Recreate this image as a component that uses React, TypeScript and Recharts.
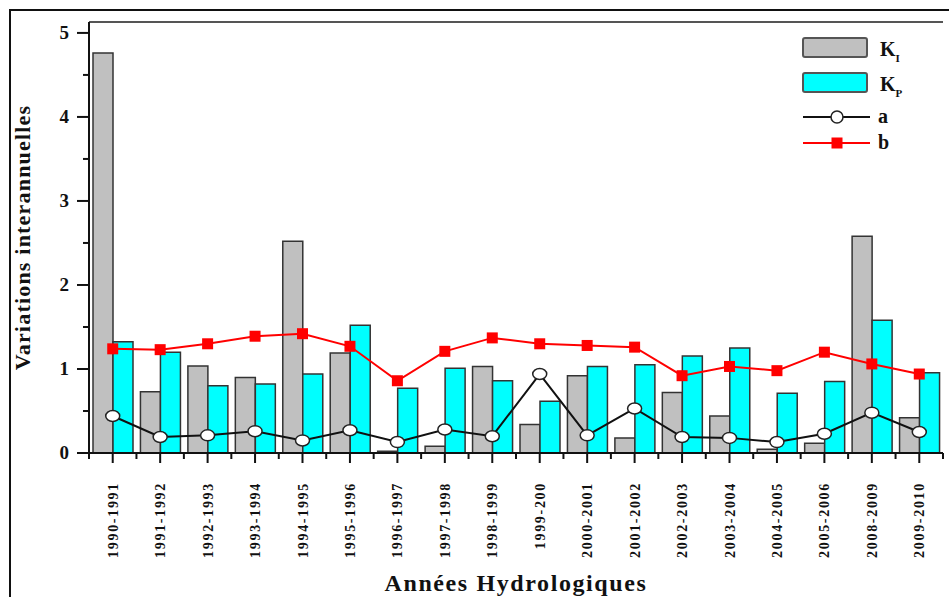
import React from "react";
import {
  ComposedChart,
  Bar,
  Line,
  XAxis,
  YAxis,
  ReferenceLine,
} from "recharts";

const years = [
  "1990-1991", "1991-1992", "1992-1993", "1993-1994", "1994-1995", "1995-1996",
  "1996-1997", "1997-1998", "1998-1999", "1999-200", "2000-2001", "2001-2002",
  "2002-2003", "2003-2004", "2004-2005", "2005-2006", "2008-2009", "2009-2010",
];

const ki = [4.76, 0.73, 1.035, 0.9, 2.52, 1.19, 0.02, 0.08, 1.03, 0.34, 0.92, 0.18, 0.72, 0.44, 0.045, 0.115, 2.58, 0.42];
const kp = [1.325, 1.2, 0.8, 0.82, 0.94, 1.52, 0.77, 1.01, 0.86, 0.615, 1.03, 1.05, 1.155, 1.25, 0.71, 0.85, 1.58, 0.955];
const a = [0.44, 0.19, 0.21, 0.26, 0.15, 0.27, 0.13, 0.28, 0.2, 0.94, 0.21, 0.53, 0.19, 0.18, 0.13, 0.23, 0.48, 0.25];
const b = [1.24, 1.23, 1.3, 1.39, 1.42, 1.27, 0.86, 1.21, 1.37, 1.3, 1.28, 1.26, 0.92, 1.03, 0.98, 1.2, 1.06, 0.94];

const yTicks = [0, 0.5, 1, 1.5, 2, 2.5, 3, 3.5, 4, 4.5, 5];
const Y_MAX = 5.13;

const data = years.map((year, i) => ({ year, ki: ki[i], kp: kp[i], a: a[i], b: b[i] }));

const FONT = "'Liberation Serif', 'Times New Roman', serif";
const PLOT_LEFT = 89;
const PLOT_RIGHT = 943;
const HALF_BAND = (PLOT_RIGHT - PLOT_LEFT) / years.length / 2;

const YTick = (props: any) => {
  const { x, y, payload } = props;
  const major = Number.isInteger(payload.value);
  return (
    <g>
      <line x1={x - (major ? 12 : 6)} x2={x} y1={y} y2={y} stroke="#111" strokeWidth={2} />
      {major && (
        <text x={x - 20} y={y} dy={6} textAnchor="end" fontFamily={FONT} fontWeight="bold" fontSize={19} fill="#111">
          {payload.value}
        </text>
      )}
    </g>
  );
};

const XTick = (props: any) => {
  const { x, y, payload, index } = props;
  return (
    <g>
      <line x1={x} x2={x} y1={y} y2={y + 10} stroke="#111" strokeWidth={2} />
      <line x1={x - HALF_BAND} x2={x - HALF_BAND} y1={y} y2={y + 6} stroke="#111" strokeWidth={2} />
      {index === years.length - 1 && (
        <line x1={x + HALF_BAND} x2={x + HALF_BAND} y1={y} y2={y + 6} stroke="#111" strokeWidth={2} />
      )}
      <text
        x={0}
        y={0}
        transform={`translate(${x + 5}, ${y + 29}) rotate(-90)`}
        textAnchor="end"
        fontFamily={FONT}
        fontWeight="bold"
        fontSize={14}
        letterSpacing={1.7}
        fill="#111"
      >
        {payload.value}
      </text>
    </g>
  );
};

const OpenDot = (props: any) => {
  const { cx, cy } = props;
  if (cx == null || cy == null) return null;
  return <ellipse cx={cx} cy={cy} rx={7} ry={5.5} fill="#fff" stroke="#222" strokeWidth={1.5} />;
};

const SquareDot = (props: any) => {
  const { cx, cy } = props;
  if (cx == null || cy == null) return null;
  return <rect x={cx - 5.5} y={cy - 5.5} width={11} height={11} fill="#ff0000" />;
};

const LegendBox = () => (
  <svg width={140} height={130} style={{ position: "absolute", left: 800, top: 35 }}>
    <rect x={3} y={3} width={64} height={19} fill="#c0c0c0" stroke="#555" strokeWidth={2} rx={2} />
    <text x={80} y={21} fontFamily={FONT} fontWeight="bold" fontSize={20} fill="#111">
      K<tspan fontSize={11} dy={6}>I</tspan>
    </text>
    <rect x={3} y={38} width={64} height={19} fill="#00ffff" stroke="#555" strokeWidth={2} rx={2} />
    <text x={80} y={56} fontFamily={FONT} fontWeight="bold" fontSize={20} fill="#111">
      K<tspan fontSize={11} dy={6}>P</tspan>
    </text>
    <line x1={3} x2={70} y1={82} y2={82} stroke="#111" strokeWidth={2} />
    <circle cx={37} cy={82} r={6} fill="#fff" stroke="#222" strokeWidth={1.5} />
    <text x={78} y={88} fontFamily={FONT} fontWeight="bold" fontSize={20} fill="#111">a</text>
    <line x1={3} x2={70} y1={108} y2={108} stroke="#ff0000" strokeWidth={2} />
    <rect x={31.5} y={102.5} width={11} height={11} fill="#ff0000" />
    <text x={78} y={114} fontFamily={FONT} fontWeight="bold" fontSize={20} fill="#111">b</text>
  </svg>
);

export default function App() {
  return (
    <div style={{ position: "absolute", left: 0, top: 0, width: 949, height: 597, background: "#fff", overflow: "hidden" }}>
      <div
        style={{
          position: "absolute",
          left: 9,
          top: 9,
          width: 960,
          height: 620,
          border: "2px solid #111",
          boxSizing: "border-box",
        }}
      />
      <ComposedChart
        width={949}
        height={597}
        data={data}
        margin={{ top: 22, right: 6, left: 0, bottom: 0 }}
        barCategoryGap={4}
        barGap={0}
      >
        <XAxis
          dataKey="year"
          height={144}
          tickSize={0}
          tickMargin={0}
          tick={<XTick />}
          interval={0}
          axisLine={{ stroke: "#111", strokeWidth: 2 }}
          label={{
            value: "Années Hydrologiques",
            position: "insideBottom",
            offset: 6,
            fontFamily: FONT,
            fontWeight: "bold",
            fontSize: 24,
            letterSpacing: 1.6,
            fill: "#111",
          }}
        />
        <YAxis
          width={89}
          domain={[0, Y_MAX]}
          ticks={yTicks}
          tickSize={0}
          tickMargin={0}
          tick={<YTick />}
          interval={0}
          axisLine={{ stroke: "#111", strokeWidth: 2 }}
          label={{
            value: "Variations interannuelles",
            angle: -90,
            position: "insideLeft",
            offset: 0,
            dx: 22,
            fontFamily: FONT,
            fontWeight: "bold",
            fontSize: 22,
            letterSpacing: 1.2,
            fill: "#111",
            style: { textAnchor: "middle" },
          }}
        />
        <YAxis yAxisId="right" orientation="right" width={0} tick={false} tickLine={false} axisLine={{ stroke: "#555", strokeWidth: 2 }} />
        <ReferenceLine y={Y_MAX} stroke="#555" strokeWidth={2} />
        <Bar dataKey="ki" name="KI" fill="#c0c0c0" stroke="#333" strokeWidth={1.5} isAnimationActive={false} />
        <Bar dataKey="kp" name="KP" fill="#00ffff" stroke="#333" strokeWidth={1.5} isAnimationActive={false} />
        <Line dataKey="a" name="a" stroke="#111" strokeWidth={2} dot={<OpenDot />} isAnimationActive={false} />
        <Line dataKey="b" name="b" stroke="#ff0000" strokeWidth={2} dot={<SquareDot />} isAnimationActive={false} />
      </ComposedChart>
      <LegendBox />
    </div>
  );
}
